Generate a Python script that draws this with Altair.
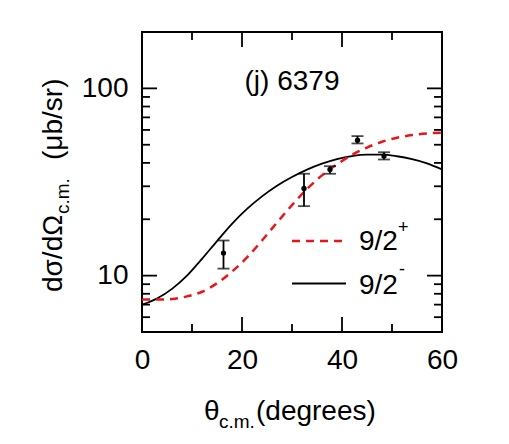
import altair as alt
import pandas as pd

# ---- data ----
theta_curve = [0, 3, 6, 9, 12, 15, 18, 21, 24, 27, 30, 33, 36, 39, 42, 45, 48, 51, 54, 57, 60]
y_plus = [7.45, 7.45, 7.5, 7.75, 8.2, 9.1, 10.5, 12.5, 15.4, 19.2, 23.8, 29.0, 34.3, 39.3, 44.1,
          48.3, 51.9, 54.5, 56.3, 57.4, 58.0]
y_minus = [7.0, 7.55, 8.5, 10.0, 12.3, 15.3, 18.9, 22.7, 26.5, 30.2, 33.6, 36.8, 39.6, 41.9, 43.5,
           44.3, 44.3, 43.4, 41.9, 39.8, 36.9]

data_theta = [16.3, 32.4, 37.6, 43.1, 48.4]
data_y = [13.2, 29.2, 36.9, 52.9, 43.6]
data_lo = [10.9, 23.5, 35.0, 50.8, 41.7]
data_hi = [15.4, 35.0, 38.4, 55.6, 45.6]

x_labels = [0, 20, 40, 60]
y_labels = [10, 100]
x_major = [20, 40]
x_minor = [10, 30, 50]
y_major = [10, 100]
y_minor = [6, 7, 8, 9, 20, 30, 40, 50, 60, 70, 80, 90]

panel_label = "(j) 6379"
legend_main = ["9/2", "9/2"]
legend_sup = ["+", "-"]

FONT = "Liberation Sans"
RED = "#e8161b"
W = H = 300
MAJ, MIN = 15, 8

x_scale = alt.Scale(domain=[0, 60], nice=False, zero=False)
y_scale = alt.Scale(type="log", domain=[5, 200], nice=False)

x_axis = alt.Axis(values=x_labels, title="", ticks=False, domain=False, grid=False,
                  labelFontSize=28, labelFont=FONT, labelColor="black", labelPadding=14,
                  labelFlush=False, labelOverlap=False)
y_axis = alt.Axis(values=y_labels, format="d", title="", ticks=False, domain=False, grid=False,
                  labelFontSize=28, labelFont=FONT, labelColor="black", labelPadding=14,
                  labelFlush=False, labelOverlap=False)

curves = pd.DataFrame({"theta": theta_curve, "plus": y_plus, "minus": y_minus})
pts = pd.DataFrame({"theta": data_theta, "y": data_y, "lo": data_lo, "hi": data_hi})

X = alt.X("theta:Q", scale=x_scale, axis=x_axis)

minus_line = alt.Chart(curves).mark_line(color="black", strokeWidth=1.8, interpolate="monotone").encode(
    x=X, y=alt.Y("minus:Q", scale=y_scale, axis=y_axis))
plus_line = alt.Chart(curves).mark_line(color=RED, strokeWidth=2.5, strokeDash=[8, 6],
                                         interpolate="monotone").encode(
    x=X, y=alt.Y("plus:Q", scale=y_scale, axis=y_axis))

stems = alt.Chart(pts).mark_rule(color="black", strokeWidth=1.8).encode(
    x=X, y=alt.Y("lo:Q", scale=y_scale, axis=y_axis), y2="hi:Q")
cap_lo = alt.Chart(pts).mark_tick(color="black", orient="horizontal", size=12, thickness=1.8).encode(
    x=X, y=alt.Y("lo:Q", scale=y_scale, axis=y_axis))
cap_hi = alt.Chart(pts).mark_tick(color="black", orient="horizontal", size=12, thickness=1.8).encode(
    x=X, y=alt.Y("hi:Q", scale=y_scale, axis=y_axis))
dots = alt.Chart(pts).mark_circle(color="black", size=28, opacity=1).encode(
    x=X, y=alt.Y("y:Q", scale=y_scale, axis=y_axis))

# inward ticks
def xticks(vals, length):
    df = pd.DataFrame({"v": vals})
    xs = alt.X("v:Q", scale=x_scale, axis=x_axis)
    bottom = alt.Chart(df).mark_rule(color="black", strokeWidth=1.8).encode(
        x=xs, y=alt.value(H), y2=alt.value(H - length))
    top = alt.Chart(df).mark_rule(color="black", strokeWidth=1.8).encode(
        x=xs, y=alt.value(0), y2=alt.value(length))
    return [bottom, top]

def yticks(vals, length):
    df = pd.DataFrame({"v": vals})
    ys = alt.Y("v:Q", scale=y_scale, axis=y_axis)
    left = alt.Chart(df).mark_rule(color="black", strokeWidth=1.8).encode(
        y=ys, x=alt.value(0), x2=alt.value(length))
    right = alt.Chart(df).mark_rule(color="black", strokeWidth=1.8).encode(
        y=ys, x=alt.value(W), x2=alt.value(W - length))
    return [left, right]

ticks = xticks(x_major, MAJ) + xticks(x_minor, MIN) + yticks(y_major, MAJ) + yticks(y_minor, MIN)

def txt(s, x, y, size=28, angle=0, align="left"):
    return alt.Chart(pd.DataFrame({"t": [s]})).mark_text(
        font=FONT, fontSize=size, color="black", align=align, baseline="alphabetic", angle=angle
    ).encode(text="t:N", x=alt.value(x), y=alt.value(y))

texts = [
    txt(panel_label, 150, 58, align="center"),
    # x title
    txt("θ", 62, 388),
    txt("c.m.", 77, 395.5, size=19),
    txt("(degrees)", 114, 388),
    # y title (rotated)
    txt("dσ/dΩ", -80, 260, angle=270),
    txt("c.m.", -73, 182, size=19, angle=270),
    txt("(μb/sr)", -80, 128, angle=270),
    # legend
    txt(legend_main[0], 217, 217.5),
    txt(legend_sup[0], 256, 201, size=18),
    txt(legend_main[1], 217, 262),
    txt(legend_sup[1], 257, 243, size=18),
]

leg_plus = alt.Chart(pd.DataFrame({"k": ["plus"]})).mark_rule(
    color=RED, strokeWidth=2.5, strokeDash=[8, 6]).encode(
    x=alt.value(150), x2=alt.value(204), y=alt.value(209))
leg_minus = alt.Chart(pd.DataFrame({"k": ["minus"]})).mark_rule(
    color="black", strokeWidth=1.8).encode(
    x=alt.value(150), x2=alt.value(204), y=alt.value(251.5))

chart = alt.layer(
    minus_line, plus_line, stems, cap_lo, cap_hi, dots, *ticks, leg_plus, leg_minus, *texts
).properties(
    width=W, height=H,
    autosize=alt.AutoSizeParams(type="none"),
    padding={"left": 142, "top": 32, "right": 67, "bottom": 112},
    background="white",
).configure_view(stroke="black", strokeWidth=2)

chart.save("out.html", embed_options={"renderer": "svg", "actions": False})
